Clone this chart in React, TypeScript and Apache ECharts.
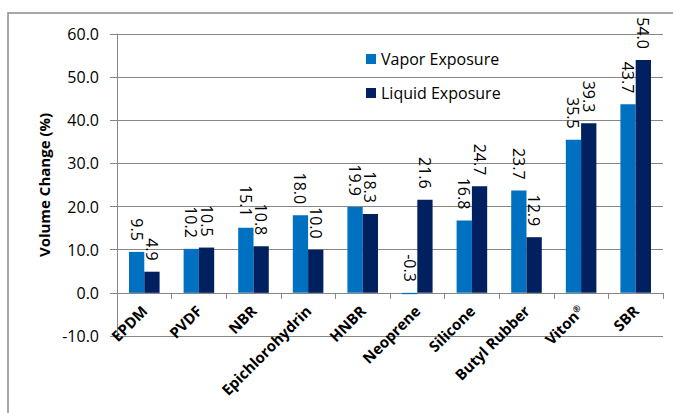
import React, { useEffect, useRef } from "react";
import * as echarts from "echarts";

// Elastomer samples and their measured volume change (%)
const categories = [
  "EPDM",
  "PVDF",
  "NBR",
  "Epichlorohydrin",
  "HNBR",
  "Neoprene",
  "Silicone",
  "Butyl Rubber",
  "Viton®",
  "SBR",
];
const vaporExposure = [9.5, 10.2, 15.1, 18.0, 19.9, -0.3, 16.8, 23.7, 35.5, 43.7];
const liquidExposure = [4.9, 10.5, 10.8, 10.0, 18.3, 21.6, 24.7, 12.9, 39.3, 54.0];
const seriesNames = ["Vapor Exposure", "Liquid Exposure"];
const yAxisTitle = "Volume Change (%)";
const yMin = -10;
const yMax = 60;
const yStep = 10;

const FONT = "'Open Sans', 'DejaVu Sans', sans-serif";
const GRID_GRAY = "#868686";

export default function App() {
  const ref = useRef<HTMLDivElement>(null);

  useEffect(() => {
    if (!ref.current) return;
    const chart = echarts.init(ref.current, undefined, { renderer: "svg" });

    const barLabel = {
      show: true,
      position: "top",
      rotate: -90,
      align: "right",
      verticalAlign: "middle",
      distance: 11,
      fontFamily: FONT,
      fontSize: 16,
      color: "#000",
      formatter: (p: any) => Number(p.value).toFixed(1),
    };

    chart.setOption({
      animation: false,
      backgroundColor: "#fff",
      textStyle: { fontFamily: FONT },
      graphic: [
        {
          type: "rect",
          silent: true,
          z: -1,
          shape: { x: 8, y: 13, width: 720, height: 460 },
          style: { fill: "none", stroke: "#8c8c8c", lineWidth: 1.5 },
        },
      ],
      legend: {
        orient: "vertical",
        left: 361,
        top: 44,
        itemWidth: 10,
        itemHeight: 10,
        itemGap: 14,
        icon: "rect",
        textStyle: { fontFamily: FONT, fontSize: 16, color: "#000", lineHeight: 20 },
        data: seriesNames,
      },
      grid: {
        left: 117,
        right: 10,
        top: 34,
        bottom: 77,
        containLabel: false,
        outerBoundsMode: "none",
      },
      xAxis: {
        type: "category",
        data: categories,
        axisLine: { onZero: true, lineStyle: { color: GRID_GRAY, width: 1 } },
        axisTick: { show: true, length: 6, lineStyle: { color: GRID_GRAY } },
        axisLabel: {
          interval: 0,
          rotate: 45,
          margin: -28,
          fontFamily: FONT,
          fontSize: 15,
          fontWeight: "bold",
          color: "#000",
          formatter: (v: string) =>
            v.endsWith("®") ? `{b|${v.slice(0, -1)}}{sup|®}` : `{b|${v}}`,
          rich: {
            b: { fontFamily: FONT, fontSize: 15, fontWeight: "bold", color: "#000" },
            sup: {
              fontFamily: FONT,
              fontSize: 9,
              fontWeight: "bold",
              color: "#000",
              verticalAlign: "top",
              padding: [0, 0, 6, 0],
            },
          },
        },
      },
      yAxis: {
        type: "value",
        min: yMin,
        max: yMax,
        interval: yStep,
        name: yAxisTitle,
        nameLocation: "middle",
        nameGap: 64,
        nameTextStyle: { fontFamily: FONT, fontSize: 15, fontWeight: "bold", color: "#000" },
        axisLine: { show: true, lineStyle: { color: GRID_GRAY, width: 1 } },
        axisTick: { show: true, length: 7, lineStyle: { color: GRID_GRAY } },
        axisLabel: {
          margin: 18,
          fontFamily: FONT,
          fontSize: 16,
          color: "#000",
          formatter: (v: number) => v.toFixed(1),
        },
        splitLine: { show: true, lineStyle: { color: GRID_GRAY, width: 1 } },
      },
      series: [
        {
          name: seriesNames[0],
          type: "bar",
          data: vaporExposure,
          barWidth: "28%",
          barGap: "0%",
          itemStyle: { color: "#0070C0" },
          label: barLabel,
        },
        {
          name: seriesNames[1],
          type: "bar",
          data: liquidExposure,
          barWidth: "28%",
          barGap: "0%",
          itemStyle: { color: "#002060" },
          label: barLabel,
        },
      ],
    });

    return () => chart.dispose();
  }, []);

  return (
    <div
      ref={ref}
      style={{ position: "absolute", left: 0, top: 0, width: 673, height: 413 }}
    />
  );
}
